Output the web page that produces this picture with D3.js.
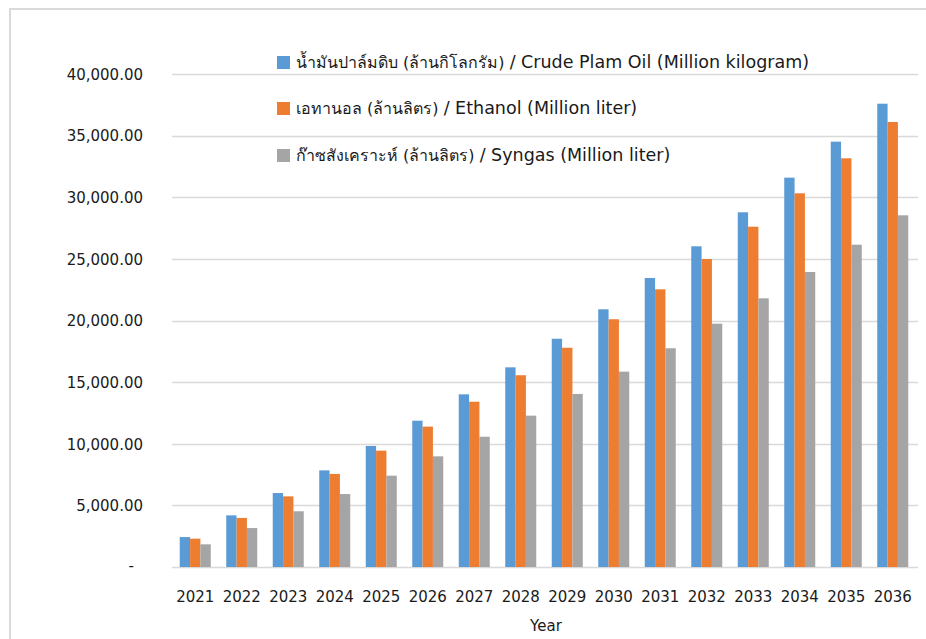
<!DOCTYPE html>
<html><head><meta charset="utf-8">
<script src="https://cdn.jsdelivr.net/npm/d3@7"></script>
<style>body{margin:0;background:#fff;} svg{display:block;}</style>
</head><body>
<svg id="chart" width="926" height="639"></svg>
<script>
const years = ["2021","2022","2023","2024","2025","2026","2027","2028","2029","2030","2031","2032","2033","2034","2035","2036"];
const cpo = [2430,4190,6000,7840,9820,11870,14010,16200,18520,20910,23450,26020,28780,31590,34510,37590];
const ethanol = [2300,3980,5730,7550,9440,11390,13410,15560,17790,20100,22530,24990,27610,30320,33160,36105];
const syngas = [1840,3160,4520,5920,7410,8980,10570,12280,14040,15850,17750,19740,21800,23935,26150,28535];
const seriesNames = [
  "น้ำมันปาล์มดิบ (ล้านกิโลกรัม) / Crude Plam Oil (Million kilogram)",
  "เอทานอล (ล้านลิตร) / Ethanol (Million liter)",
  "ก๊าซสังเคราะห์ (ล้านลิตร) / Syngas (Million liter)"
];
const yTicks = [0,5000,10000,15000,20000,25000,30000,35000,40000];
const colors = ["#5B9BD5","#ED7D31","#A5A5A5"];
const seriesKeys = ["cpo","ethanol","syngas"];

const data = years.map((y,i)=>({year:y, cpo:cpo[i], ethanol:ethanol[i], syngas:syngas[i]}));

const svg = d3.select("#chart");
// frame
svg.append("path").attr("d","M10,639 L10,9 L926,9").attr("fill","none").attr("stroke","#d9d9d9").attr("stroke-width",2);

const x = d3.scaleBand().domain(years).range([172,916]).paddingInner(0.333).paddingOuter(0.1665);
const xs = d3.scaleBand().domain(seriesKeys).range([0,x.bandwidth()]);
const y = d3.scaleLinear().domain([0,40000]).range([567,74]);

// gridlines
svg.append("g").selectAll("line").data(yTicks).join("line")
  .attr("x1",172).attr("x2",918).attr("y1",d=>Math.round(y(d))+0.5).attr("y2",d=>Math.round(y(d))+0.5)
  .attr("stroke","#d9d9d9").attr("stroke-width",1.5);

// y axis labels
const yAxis = d3.axisLeft(y).tickValues(yTicks).tickSize(0).tickPadding(0)
  .tickFormat(d=> d===0 ? "-" : d3.format(",.2f")(d));
const ya = svg.append("g").attr("transform","translate(143,0)").call(yAxis);
ya.select(".domain").remove();
ya.selectAll("text").attr("font-family","DejaVu Sans, Verdana, sans-serif").attr("font-size",15).attr("fill","#1a1a1a").attr("dy","0.35em");
ya.selectAll(".tick").filter(d=>d===0).select("text").attr("transform","translate(-9,-2)");

// bars
const g = svg.append("g");
g.selectAll("g").data(data).join("g").attr("transform",d=>`translate(${x(d.year)},0)`)
  .selectAll("rect").data(d=>seriesKeys.map((k,i)=>({k, v:d[k], i})))
  .join("rect")
  .attr("x",d=>xs(d.k)).attr("width",xs.bandwidth())
  .attr("y",d=>y(d.v)).attr("height",d=>y(0)-y(d.v))
  .attr("fill",d=>colors[d.i]);

// x axis labels
const xAxis = d3.axisBottom(x).tickSize(0).tickPadding(0);
const xa = svg.append("g").attr("transform","translate(0,597)").call(xAxis);
xa.select(".domain").remove();
xa.selectAll("text").attr("font-family","DejaVu Sans, Verdana, sans-serif").attr("font-size",15).attr("fill","#1a1a1a").attr("dy","0.35em");

svg.append("text").attr("x",546).attr("y",631).attr("text-anchor","middle")
  .attr("font-family","DejaVu Sans, Verdana, sans-serif").attr("font-size",15).attr("fill","#1a1a1a").text("Year");

// legend
const legendY = [61,107,154];
const lg = svg.append("g").selectAll("g").data(seriesNames).join("g")
  .attr("transform",(d,i)=>`translate(277,${legendY[i]})`);
lg.append("rect").attr("x",0).attr("y",-5).attr("width",13).attr("height",13).attr("fill",(d,i)=>colors[i]);
const lt = lg.append("text").attr("x",19).attr("y",1).attr("dy","0.35em")
  .attr("font-family","'DejaVu Sans', Tahoma, sans-serif").attr("fill","#1a1a1a");
lt.append("tspan").attr("font-size",16).text(d=>d.split(" / ")[0] + " ");
lt.append("tspan").attr("font-size",17.5).text(d=>"/ " + d.split(" / ")[1]);
</script>
</body></html>
